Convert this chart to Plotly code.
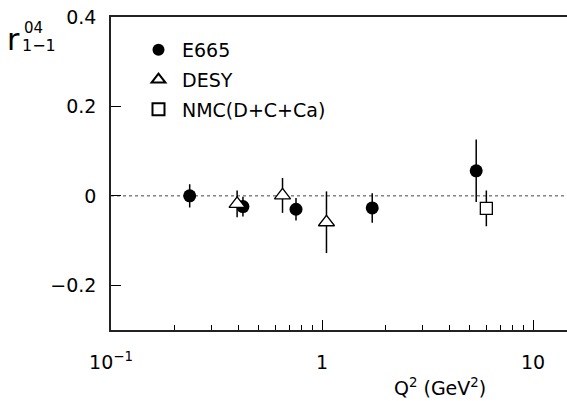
import plotly.graph_objects as go

# E665
e665_q2 = [0.236, 0.422, 0.753, 1.73, 5.38]
e665_r = [0.0, -0.024, -0.030, -0.027, 0.056]
e665_err = [0.026, 0.022, 0.025, 0.033, 0.070]

# DESY
desy_q2 = [0.396, 0.65, 1.05]
desy_r = [-0.018, 0.001, -0.059]
desy_err = [0.030, 0.039, 0.069]

# NMC(D+C+Ca)
nmc_q2 = [6.01]
nmc_r = [-0.028]
nmc_err = [0.040]

x_tickvals = [0.1, 1, 10]
x_ticktext = ["10<sup>−1</sup>", "1", "10"]
y_tickvals = [0.4, 0.2, 0, -0.2]
y_ticktext = ["0.4", "0.2", "0", "−0.2"]
x_minor = [0.2, 0.3, 0.4, 0.5, 0.6, 0.7, 0.8, 0.9, 2, 3, 4, 5, 6, 7, 8, 9]

FONT = "DejaVu Sans"
W, H = 567, 401
L, R, T, B = 111, 0, 17, 71
PW, PH = W - L - R, H - T - B

x_left, px_per_dec = -1.0, 211.0
x_right = x_left + PW / px_per_dec

err_style = dict(type="data", thickness=1.5, width=0, color="black")

fig = go.Figure()
fig.add_trace(go.Scatter(
    x=e665_q2, y=e665_r, mode="markers", name="E665", legendgroup="a",
    marker=dict(symbol="circle", size=13, color="black"),
    error_y=dict(array=e665_err, **err_style)))
fig.add_trace(go.Scatter(
    x=desy_q2, y=desy_r, mode="markers", name="DESY", legendgroup="b",
    marker=dict(symbol="triangle-up", size=14, color="white",
                line=dict(color="black", width=1.3)),
    error_y=dict(array=desy_err, **err_style)))
fig.add_trace(go.Scatter(
    x=nmc_q2, y=nmc_r, mode="markers", name="NMC(D+C+Ca)", legendgroup="c",
    marker=dict(symbol="square", size=12, color="white",
                line=dict(color="black", width=1.3)),
    error_y=dict(array=nmc_err, **err_style)))

fig.add_shape(type="line", xref="paper", yref="y", x0=0, x1=1, y0=0, y1=0,
              line=dict(color="#444", width=1, dash="dot"), layer="below")

fig.update_layout(
    width=W, height=H,
    margin=dict(l=L, r=R, t=T, b=B),
    paper_bgcolor="white", plot_bgcolor="white",
    font=dict(family=FONT, size=19, color="black"),
    showlegend=True,
    legend=dict(x=24 / PW, y=1 - 14 / PH, xanchor="left", yanchor="top",
                xref="paper", yref="paper", itemwidth=37,
                bgcolor="rgba(0,0,0,0)", font=dict(size=19, family=FONT),
                tracegroupgap=2, itemsizing="constant"),
    xaxis=dict(type="log", range=[x_left, x_right],
               tickvals=x_tickvals, ticktext=x_ticktext,
               ticks="inside", ticklen=10, tickwidth=1, tickcolor="black",
               minor=dict(tickvals=x_minor, ticks="inside", ticklen=5,
                          tickwidth=1, tickcolor="black"),
               showline=True, linecolor="#222", linewidth=1.5, mirror=True,
               showgrid=False, zeroline=False, ticklabelstandoff=14,
               tickfont=dict(size=19, family=FONT)),
    yaxis=dict(range=[-0.3, 0.4],
               tickvals=y_tickvals, ticktext=y_ticktext,
               ticks="inside", ticklen=10, tickwidth=1, tickcolor="black",
               showline=True, linecolor="#222", linewidth=1.5, mirror=False,
               showgrid=False, zeroline=False, ticklabelstandoff=9,
               tickfont=dict(size=19, family=FONT)),
)

fig.add_annotation(text="Q<sup>2</sup> (GeV<sup>2</sup>)", xref="paper", yref="paper",
                   x=(440 - L) / PW, y=-(387 - (H - B)) / PH,
                   xanchor="center", yanchor="middle", showarrow=False,
                   font=dict(size=19, family=FONT))
# y title r^{04}_{1-1}
fig.add_annotation(text="r", xref="paper", yref="paper",
                   x=-(L - 13) / PW, y=1 - (40 - T) / PH,
                   xanchor="center", yanchor="middle", showarrow=False,
                   font=dict(size=30, family=FONT))
fig.add_annotation(text="04", xref="paper", yref="paper",
                   x=-(L - 33) / PW, y=1 - (28 - T) / PH,
                   xanchor="center", yanchor="middle", showarrow=False,
                   font=dict(size=15, family=FONT))
fig.add_annotation(text="1−1", xref="paper", yref="paper",
                   x=-(L - 39) / PW, y=1 - (45 - T) / PH,
                   xanchor="center", yanchor="middle", showarrow=False,
                   font=dict(size=16, family=FONT))

fig.write_html("out.html", config={"displayModeBar": False},
               post_script="document.body.style.margin='0';document.body.style.padding='0';")
